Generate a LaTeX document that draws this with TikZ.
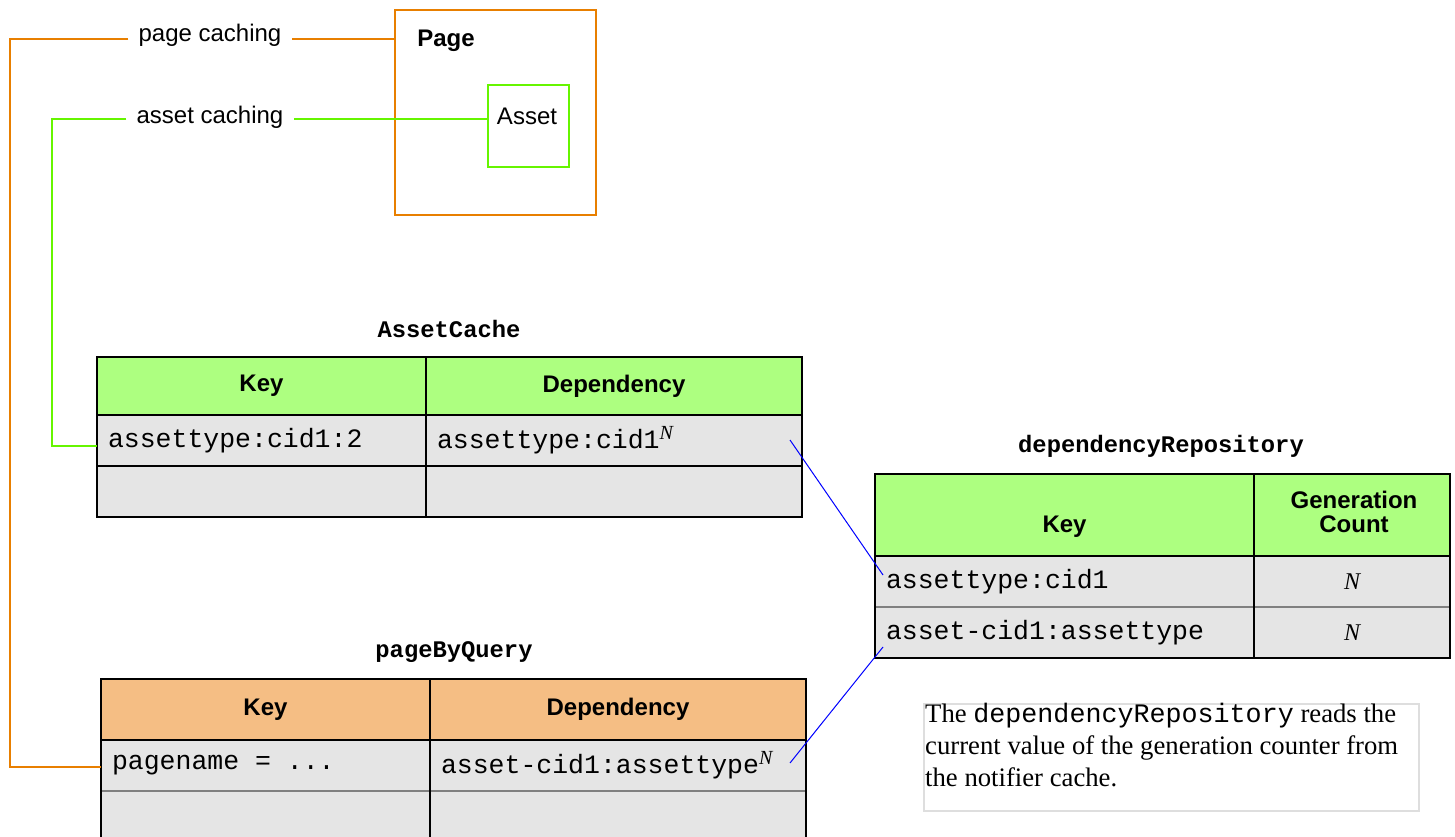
\documentclass[tikz,border=0pt]{standalone}
\usepackage{fontspec}
\setmainfont{Liberation Serif}
\setsansfont{Liberation Sans}
\setmonofont{Liberation Mono}
\usetikzlibrary{calc}
\definecolor{cOrange}{RGB}{232,127,0}
\definecolor{cGreenLine}{RGB}{102,245,0}
\definecolor{cHeadGreen}{RGB}{173,255,128}
\definecolor{cHeadOrange}{RGB}{245,190,132}
\definecolor{cCell}{RGB}{229,229,229}
\definecolor{cBlue}{RGB}{0,0,255}
\definecolor{cNote}{RGB}{222,222,222}
\definecolor{cGridGray}{RGB}{128,128,128}
\newcommand{\tsp}{\hspace{0.6em}}
\newcommand{\supN}{\raisebox{9pt}{\fontsize{20}{20}\selectfont\rmfamily\itshape N}}
\tikzset{
  grid/.style={draw=black, line width=2pt},
  gridgray/.style={draw=cGridGray, line width=2pt},
  cell/.style={anchor=north west, inner xsep=11pt, inner ysep=0pt, outer sep=0pt},
  hdtxt/.style={font=\fontsize{24}{24}\selectfont\sffamily\bfseries, align=center},
  monotxt/.style={font=\fontsize{26.5}{30}\selectfont\ttfamily, align=left},
  ntxt/.style={font=\fontsize{24}{26}\selectfont\rmfamily\itshape, align=center},
  ttl/.style={font=\fontsize{23.8}{28}\selectfont\ttfamily\bfseries},
  lbl/.style={font=\fontsize{24}{28}\selectfont\sffamily, inner xsep=10pt, inner ysep=2pt},
  oline/.style={draw=cOrange, line width=2pt},
  gline/.style={draw=cGreenLine, line width=2pt},
  bline/.style={draw=cBlue, line width=1pt},
}
\begin{document}
\begin{tikzpicture}[x=1pt,y=-1pt]
\useasboundingbox[fill=white] (0,0) rectangle (1455,837);

% ---------- Page / Asset ----------
\node[draw=cOrange, line width=2pt, anchor=north west, inner sep=0pt,
      minimum width=201pt, minimum height=205pt] (pg) at (394,9) {};
\node[font=\fontsize{24}{28}\selectfont\sffamily\bfseries] (pglbl) at (446,41) {Page};
\node[draw=cGreenLine, line width=2pt, anchor=north west, inner sep=0pt,
      minimum width=81pt, minimum height=82pt] (as) at (487,84) {};
\node[font=\fontsize{24}{28}\selectfont\sffamily] (aslbl) at (527,116) {Asset};

\node[lbl] (lpc) at (210,35) {page caching};
\node[lbl] (lac) at (210,117) {asset caching};
\coordinate (oy) at (0,39);
\coordinate (gy) at (0,119);

% ---------- AssetCache ----------
\node[ttl] (actitle) at (449,329) {AssetCache};
\node[cell, fill=cHeadGreen, hdtxt, text width=307pt, minimum height=58pt] (ac-h1) at (97,357) {Key};
\node[cell, fill=cHeadGreen, hdtxt, text width=354pt, minimum height=58pt] (ac-h2) at (426,357) {Dependency};
\node[cell, fill=cCell, monotxt, text width=307pt, minimum height=51pt] (ac-r1c1) at (97,415) {assettype:cid1:2};
\node[cell, fill=cCell, monotxt, text width=354pt, minimum height=51pt] (ac-r1c2) at (426,415) {assettype:cid1\supN};
\node[cell, fill=cCell, monotxt, text width=307pt, minimum height=51pt] (ac-r2c1) at (97,466) {};
\node[cell, fill=cCell, monotxt, text width=354pt, minimum height=51pt] (ac-r2c2) at (426,466) {};
\draw[grid] (ac-h1.south west) -- (ac-h2.south east);
\draw[grid] (ac-r1c1.south west) -- (ac-r1c2.south east);
\draw[grid] (ac-h2.north west) -- (ac-r2c2.south west);
\draw[grid] (ac-h1.north west) rectangle (ac-r2c2.south east);

% ---------- dependencyRepository ----------
\node[ttl] (drtitle) at (1161,446) {dependencyRepository};
\node[cell, fill=cHeadGreen, hdtxt, text width=357pt, minimum height=82pt] (dr-h1) at (875,474) {};
\node[cell, fill=cHeadGreen, hdtxt, text width=174pt, minimum height=82pt] (dr-h2) at (1254,474) {};
\node[hdtxt, anchor=base] (dr-h1t) at ($(dr-h1.south)+(0,-24)$) {Key};
\node[hdtxt] (dr-h2t) at ($(dr-h2.center)+(2,-3.5)$) {Generation\\Count};
\node[cell, fill=cCell, monotxt, text width=357pt, minimum height=51pt] (dr-r1c1) at (875,556) {assettype:cid1};
\node[cell, fill=cCell, ntxt, text width=174pt, minimum height=51pt] (dr-r1c2) at (1254,556) {N};
\node[cell, fill=cCell, monotxt, text width=357pt, minimum height=51pt] (dr-r2c1) at (875,607) {asset-cid1:assettype};
\node[cell, fill=cCell, ntxt, text width=174pt, minimum height=51pt] (dr-r2c2) at (1254,607) {N};
\draw[gridgray] (dr-r1c1.south west) -- (dr-r1c2.south east);
\draw[grid] (dr-h1.south west) -- (dr-h2.south east);
\draw[grid] (dr-h2.north west) -- (dr-r2c2.south west);
\draw[grid] (dr-h1.north west) rectangle (dr-r2c2.south east);

% ---------- pageByQuery ----------
\node[ttl] (pqtitle) at (454,652) {pageByQuery};
\node[cell, fill=cHeadOrange, hdtxt, text width=307pt, minimum height=61pt] (pq-h1) at (101,679) {Key};
\node[cell, fill=cHeadOrange, hdtxt, text width=354pt, minimum height=61pt] (pq-h2) at (430,679) {Dependency};
\node[cell, fill=cCell, monotxt, text width=307pt, minimum height=51pt] (pq-r1c1) at (101,740) {pagename\tsp=\tsp...};
\node[cell, fill=cCell, monotxt, text width=354pt, minimum height=51pt] (pq-r1c2) at (430,740) {asset-cid1:assettype\supN};
\node[cell, fill=cCell, monotxt, text width=307pt, minimum height=51pt] (pq-r2c1) at (101,791) {};
\node[cell, fill=cCell, monotxt, text width=354pt, minimum height=51pt] (pq-r2c2) at (430,791) {};
\draw[gridgray] (pq-r1c1.south west) -- (pq-r1c2.south east);
\draw[grid] (pq-h1.south west) -- (pq-h2.south east);
\draw[grid] (pq-h2.north west) -- (pq-r2c2.south west);
\draw[grid] (pq-h1.north west) rectangle (pq-r2c2.south east);

% ---------- caching connectors ----------
\coordinate (oc) at (10,767);
\coordinate (gc) at (52,446);
\draw[oline] (pg.west |- oy) -- (lpc.east |- oy);
\draw[oline] (lpc.west |- oy) -| (oc) -- (oc -| pq-r1c1.west);
\draw[gline] (as.west |- gy) -- (lac.east |- gy);
\draw[gline] (lac.west |- gy) -| (gc) -- (gc -| ac-r1c1.west);

% ---------- dependency links ----------
\coordinate (b1a) at (790,440);
\coordinate (b1b) at (883,575);
\coordinate (b2a) at (790,763);
\coordinate (b2b) at (883,647);
\draw[bline] (b1a) -- (b1b);
\draw[bline] (b2a) -- (b2b);

% ---------- note ----------
\node[draw=cNote, line width=2pt, anchor=north west, inner sep=0pt,
      minimum width=495pt, minimum height=107pt] (notebox) at (923,703) {};
\node[anchor=north west, inner xsep=2pt, inner ysep=0pt, align=left,
      font=\fontsize{26.7}{32}\selectfont] (note) at (notebox.north west)
  {The {\ttfamily dependencyRepository} reads the\\current value of the generation counter from\\the notifier cache.};
\end{tikzpicture}
\end{document}
